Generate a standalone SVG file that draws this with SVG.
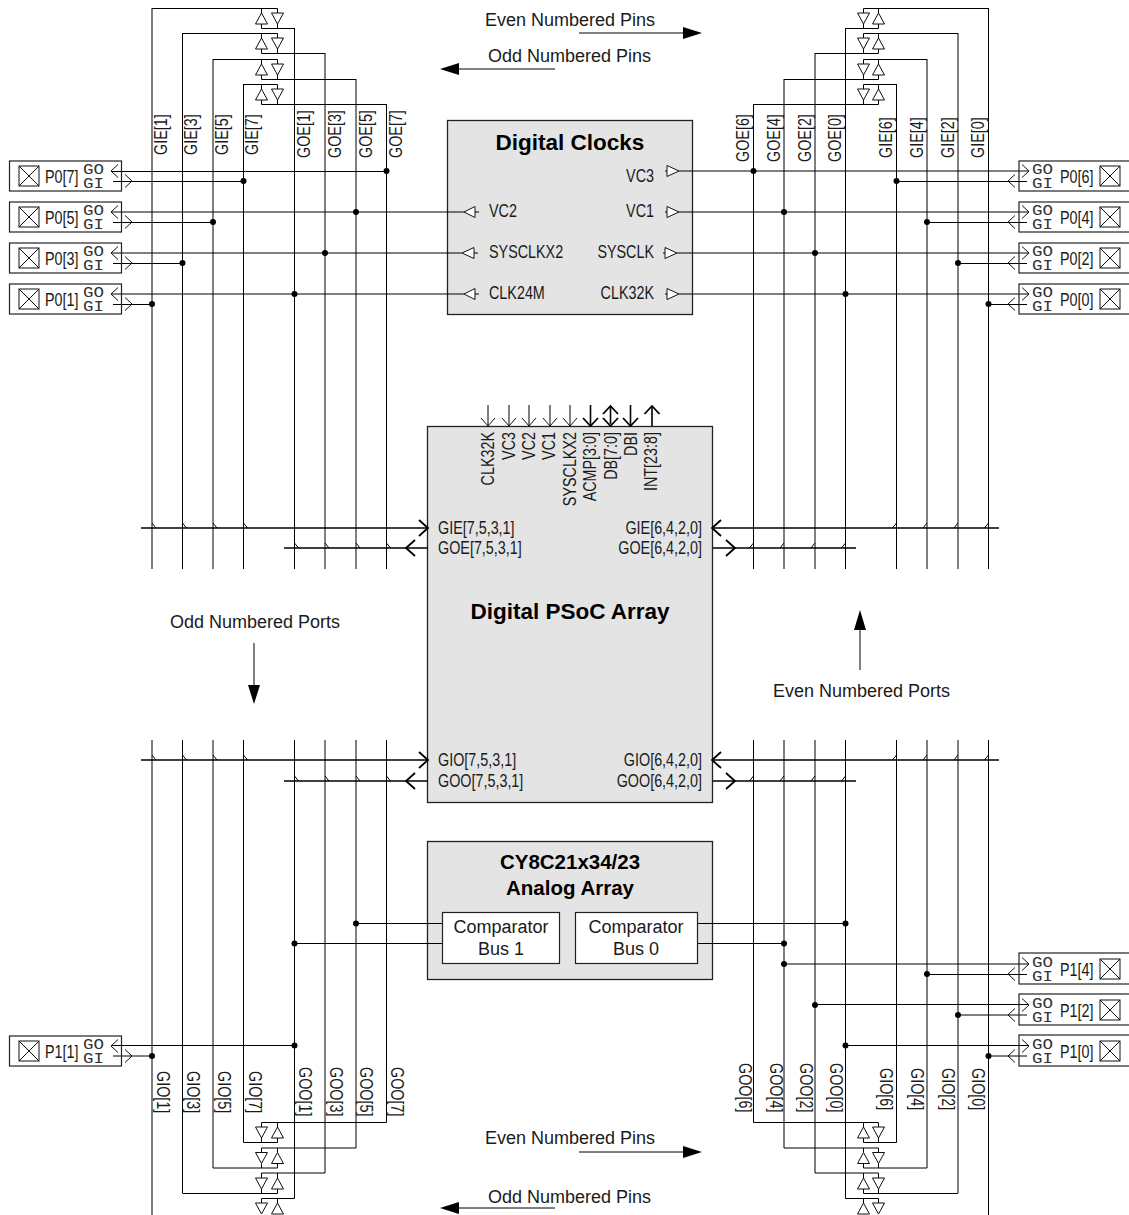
<svg xmlns="http://www.w3.org/2000/svg" width="1129" height="1215" viewBox="0 0 1129 1215">
<style>
text{font-family:"Liberation Sans",Arial,sans-serif;font-size:17.5px;fill:#1a1a1a}
.r{font-size:18px}
.c{font-size:18px;text-anchor:middle}
.b{font-weight:bold;font-size:20.5px;text-anchor:middle;fill:#000}
.m{font-family:"Liberation Mono",monospace;font-size:14px;fill:#333}
.e{text-anchor:end}
.w,.w *{fill:none;stroke:#000;stroke-width:1}
.box{fill:#e4e4e4;stroke:#222;stroke-width:1.3}
.wb{fill:#fff;stroke:#222;stroke-width:1.2}
.port{fill:none;stroke:#222;stroke-width:1.2}
.t{fill:#fff;stroke:#111;stroke-width:1}
.bus{fill:none;stroke:#000;stroke-width:1.6}
.ch{fill:none;stroke:#111;stroke-width:1}
.chb{fill:none;stroke:#000;stroke-width:1.8}
.xb{fill:none;stroke:#111;stroke-width:1}
.ar{fill:#000;stroke:none}
</style>
<defs>
<polygon id="u" class="t" points="0,0 6,11 -6,11"/>
<polygon id="d" class="t" points="-6,0 6,0 0,11"/>
<polyline id="cl" class="ch" points="7,-6.5 0,0 7,6.5"/>
<polyline id="cr" class="ch" points="-7,-6.5 0,0 -7,6.5"/>
<polyline id="tl" points="0,0 4,5" style="fill:none;stroke:#000;stroke-width:1"/>
<polyline id="tr" points="0,0 -4,5" style="fill:none;stroke:#000;stroke-width:1"/>
<circle id="o" r="3" fill="#000"/>
<g id="x"><rect class="xb" x="0" y="0" width="20" height="20"/><path class="xb" d="M0 0L20 20M20 0L0 20"/></g>
<polygon id="al" points="0,0 19,-6 19,6" class="ar"/>
<polygon id="ar" points="0,0 -19,-6 -19,6" class="ar"/>
</defs>

<g id="block-clocks">
<rect class="box" x="447.500" y="120.500" width="245" height="194"/>
<text class="b" x="570" y="150" style="font-size:22.5px">Digital Clocks</text>
<text class="e" transform="translate(654 182) scale(.82 1)">VC3</text>
<text class="e" transform="translate(654 217) scale(.82 1)">VC1</text>
<text class="e" transform="translate(654 258) scale(.82 1)">SYSCLK</text>
<text class="e" transform="translate(654 299) scale(.82 1)">CLK32K</text>
<text transform="translate(489 217) scale(.82 1)">VC2</text>
<text transform="translate(489 258) scale(.82 1)">SYSCLKX2</text>
<text transform="translate(489 299) scale(.82 1)">CLK24M</text>
</g>
<g id="block-array">
<rect class="box" x="427.500" y="426.500" width="285" height="376"/>
<text class="b" x="570" y="619" style="font-size:22.5px">Digital PSoC Array</text>
<text transform="translate(494 432) rotate(-90) scale(.82 1)" class="e">CLK32K</text>
<text transform="translate(515 432) rotate(-90) scale(.82 1)" class="e">VC3</text>
<text transform="translate(535 432) rotate(-90) scale(.82 1)" class="e">VC2</text>
<text transform="translate(555 432) rotate(-90) scale(.82 1)" class="e">VC1</text>
<text transform="translate(576 432) rotate(-90) scale(.82 1)" class="e">SYSCLKX2</text>
<text transform="translate(596 432) rotate(-90) scale(.82 1)" class="e">ACMP[3:0]</text>
<text transform="translate(617 432) rotate(-90) scale(.82 1)" class="e">DB[7:0]</text>
<text transform="translate(637 432) rotate(-90) scale(.82 1)" class="e">DBI</text>
<text transform="translate(657 432) rotate(-90) scale(.82 1)" class="e">INT[23:8]</text>
<text transform="translate(438 534) scale(.82 1)">GIE[7,5,3,1]</text>
<text transform="translate(438 554) scale(.82 1)">GOE[7,5,3,1]</text>
<text class="e" transform="translate(702 534) scale(.82 1)">GIE[6,4,2,0]</text>
<text class="e" transform="translate(702 554) scale(.82 1)">GOE[6,4,2,0]</text>
<text transform="translate(438 766) scale(.82 1)">GIO[7,5,3,1]</text>
<text transform="translate(438 787) scale(.82 1)">GOO[7,5,3,1]</text>
<text class="e" transform="translate(702 766) scale(.82 1)">GIO[6,4,2,0]</text>
<text class="e" transform="translate(702 787) scale(.82 1)">GOO[6,4,2,0]</text>
</g>
<g id="block-analog">
<rect class="box" x="427.500" y="841.500" width="285" height="138"/>
<text class="b" x="570" y="869">CY8C21x34/23</text>
<text class="b" x="570" y="895">Analog Array</text>
</g>
<g id="comparator-1"><rect class="wb" x="442.500" y="912.500" width="117" height="51"/><text class="c" x="501" y="933">Comparator</text><text class="c" x="501" y="955">Bus 1</text></g>
<g id="comparator-0"><rect class="wb" x="575.500" y="912.500" width="122" height="51"/><text class="c" x="636" y="933">Comparator</text><text class="c" x="636" y="955">Bus 0</text></g>

<g id="connectors" class="w">
<path d="M152 8V569M182.500 33V569M213 59V569M243.500 84V569M294.500 28V569M325 53V569M356 79V569M386.500 104V569"/>
<path d="M753.500 104V569M784 79V569M815 53V569M845.500 28V569M896.500 84V569M927 59V569M958 33V569M988.500 8V569"/>
<path d="M152 740V1215M182.500 740V1193M213 740V1168M243.500 740V1142.500M294.500 740V1198.500M325 740V1173M356 740V1148M386.500 740V1122.500"/>
<path d="M753.500 740V1122.500M784 740V1148M815 740V1173M845.500 740V1198.500M896.500 740V1142.500M927 740V1168M958 740V1193M988.500 740V1215"/>
<path d="M152 8.500H277.500V13M261.500 8.500V13M261.500 24V28.500H294.500M277.500 24V28.500"/>
<path d="M182.500 33.500H277.500V38M261.500 33.500V38M261.500 49V53.500H325M277.500 49V53.500"/>
<path d="M213 59.500H277.500V64M261.500 59.500V64M261.500 75V79.500H356M277.500 75V79.500"/>
<path d="M243.500 84.500H277.500V89M261.500 84.500V89M261.500 100V104.500H386.500M277.500 100V104.500"/>
<path d="M988.500 8.500H863.500V13M878.500 8.500V13M878.500 24V28.500H845.500M863.500 24V28.500"/>
<path d="M958 33.500H863.500V38M878.500 33.500V38M878.500 49V53.500H815M863.500 49V53.500"/>
<path d="M927 59.500H863.500V64M878.500 59.500V64M878.500 75V79.500H784M863.500 75V79.500"/>
<path d="M896.500 84.500H863.500V89M878.500 84.500V89M878.500 100V104.500H753.500M863.500 100V104.500"/>
<path d="M386.500 1122.500H261.500V1127M277.500 1122.500V1127M277.500 1138V1142.500H243.500M261.500 1138V1142.500"/>
<path d="M356 1148H261.500V1152.500M277.500 1148V1152.500M277.500 1163.500V1168H213M261.500 1163.500V1168"/>
<path d="M325 1173H261.500V1178M277.500 1173V1178M277.500 1189V1193.500H182.500M261.500 1189V1193.500"/>
<path d="M294.500 1198.500H261.500V1203M277.500 1198.500V1203"/>
<path d="M753.500 1122.500H878.500V1127M863.500 1122.500V1127M863.500 1138V1142.500H896.500M878.500 1138V1142.500"/>
<path d="M784 1148H878.500V1152.500M863.500 1148V1152.500M863.500 1163.500V1168H927M878.500 1163.500V1168"/>
<path d="M815 1173H878.500V1178M863.500 1173V1178M863.500 1189V1193.500H958M878.500 1189V1193.500"/>
<path d="M845.500 1198.500H878.500V1203M863.500 1198.500V1203"/>
<path d="M111 171.500H386.500M113 181.500H243.500M111 212H464M113 222.500H213M111 253H462M113 263.500H182.500M111 294H464M113 304.500H152"/>
<path d="M679 171H1029M896.500 181.500H1027M679 212H1029M927 222.500H1027M677 253H1029M958 263.500H1027M679 294H1029M988.500 304.500H1027"/>
<path d="M475 212H479M474 253H478M475 294H479M665 171H667M665 212H667M663 253H665M665 294H667"/>
<path d="M356 923.500H442M294.500 943.500H442M698 923.500H845.500M698 943.500H784"/>
<path d="M784 964H1029M927 974.500H1027M815 1004.500H1029M958 1015H1027M845.500 1045.500H1029M988.500 1056H1027M111 1045.500H294.500M113 1056H152"/>
<path d="M488 405V426M509 405V426M529 405V426M550 405V426M570 405V426"/>
</g>
<g id="connector-details">
<path class="bus" d="M590.500 405V426M610.500 407V424M630.500 405V426M652 407V426"/>
<path class="bus" d="M141 528H428M284 548H428M712 528H999M713 548H856M141 760H428M284 781H428M712 760H999M713 781H856"/>
<polyline class="chb" points="419,520 428,528 419,536"/><polyline class="chb" points="415,540 406,548 415,556"/>
<polyline class="chb" points="721,520 712,528 721,536"/><polyline class="chb" points="726,540 735,548 726,556"/>
<polyline class="chb" points="419,752 428,760 419,768"/><polyline class="chb" points="415,773 406,781 415,789"/>
<polyline class="chb" points="721,752 712,760 721,768"/><polyline class="chb" points="726,773 735,781 726,789"/>
<polyline class="ch" points="481,418 488,426 495,418"/><polyline class="ch" points="502,418 509,426 516,418"/><polyline class="ch" points="522,418 529,426 536,418"/><polyline class="ch" points="543,418 550,426 557,418"/><polyline class="ch" points="563,418 570,426 577,418"/>
<polyline class="chb" points="583,418 590.500,426 598,418"/><polyline class="chb" points="603,418 610.500,426 618,418"/><polyline class="chb" points="603,414 610.500,406 618,414"/><polyline class="chb" points="623,418 630.500,426 638,418"/><polyline class="chb" points="644.500,414 652,406 659.500,414"/>

<use href="#u" x="261.500" y="13"/><use href="#d" x="277.500" y="13"/><use href="#u" x="261.500" y="38"/><use href="#d" x="277.500" y="38"/><use href="#u" x="261.500" y="64"/><use href="#d" x="277.500" y="64"/><use href="#u" x="261.500" y="89"/><use href="#d" x="277.500" y="89"/>
<use href="#d" x="863.500" y="13"/><use href="#u" x="878.500" y="13"/><use href="#d" x="863.500" y="38"/><use href="#u" x="878.500" y="38"/><use href="#d" x="863.500" y="64"/><use href="#u" x="878.500" y="64"/><use href="#d" x="863.500" y="89"/><use href="#u" x="878.500" y="89"/>
<use href="#d" x="261.500" y="1127"/><use href="#u" x="277.500" y="1127"/><use href="#d" x="261.500" y="1152.500"/><use href="#u" x="277.500" y="1152.500"/><use href="#d" x="261.500" y="1178"/><use href="#u" x="277.500" y="1178"/><use href="#d" x="261.500" y="1203"/><use href="#u" x="277.500" y="1203"/>
<use href="#u" x="863.500" y="1127"/><use href="#d" x="878.500" y="1127"/><use href="#u" x="863.500" y="1152.500"/><use href="#d" x="878.500" y="1152.500"/><use href="#u" x="863.500" y="1178"/><use href="#d" x="878.500" y="1178"/><use href="#u" x="863.500" y="1203"/><use href="#d" x="878.500" y="1203"/>

<g fill="#fff" stroke="#111">
<polygon points="667,165.500 679,171 667,176.500"/><polygon points="667,206.500 679,212 667,217.500"/><polygon points="665,247.500 677,253 665,258.500"/><polygon points="667,288.500 679,294 667,299.500"/>
<polygon points="475,206.500 464,212 475,217.500"/><polygon points="474,247.500 462,253 474,258.500"/><polygon points="475,288.500 464,294 475,299.500"/>
</g>

<use href="#o" x="386.500" y="171"/><use href="#o" x="243.500" y="181"/><use href="#o" x="356" y="212"/><use href="#o" x="213" y="222"/><use href="#o" x="325" y="253"/><use href="#o" x="182.500" y="263"/><use href="#o" x="294.500" y="294"/><use href="#o" x="152" y="304"/>
<use href="#o" x="753.500" y="171"/><use href="#o" x="896.500" y="181"/><use href="#o" x="784" y="212"/><use href="#o" x="927" y="222"/><use href="#o" x="815" y="253"/><use href="#o" x="958" y="263"/><use href="#o" x="845.500" y="294"/><use href="#o" x="988.500" y="304"/>
<use href="#o" x="356" y="923.500"/><use href="#o" x="294.500" y="943.500"/><use href="#o" x="845.500" y="923.500"/><use href="#o" x="784" y="943.500"/>
<use href="#o" x="784" y="964"/><use href="#o" x="927" y="974"/><use href="#o" x="815" y="1005"/><use href="#o" x="958" y="1015"/><use href="#o" x="845.500" y="1045.500"/><use href="#o" x="988.500" y="1056"/><use href="#o" x="294.500" y="1045.500"/><use href="#o" x="152" y="1056"/>

<g id="bus-ticks">
<use href="#tl" x="152" y="523"/><use href="#tl" x="182.500" y="523"/><use href="#tl" x="213" y="523"/><use href="#tl" x="243.500" y="523"/>
<use href="#tl" x="294.500" y="543"/><use href="#tl" x="325" y="543"/><use href="#tl" x="356" y="543"/><use href="#tl" x="386.500" y="543"/>
<use href="#tr" x="896.500" y="523"/><use href="#tr" x="927" y="523"/><use href="#tr" x="958" y="523"/><use href="#tr" x="988.500" y="523"/>
<use href="#tr" x="753.500" y="543"/><use href="#tr" x="784" y="543"/><use href="#tr" x="815" y="543"/><use href="#tr" x="845.500" y="543"/>
<use href="#tl" x="152" y="755"/><use href="#tl" x="182.500" y="755"/><use href="#tl" x="213" y="755"/><use href="#tl" x="243.500" y="755"/>
<use href="#tl" x="294.500" y="776"/><use href="#tl" x="325" y="776"/><use href="#tl" x="356" y="776"/><use href="#tl" x="386.500" y="776"/>
<use href="#tr" x="896.500" y="755"/><use href="#tr" x="927" y="755"/><use href="#tr" x="958" y="755"/><use href="#tr" x="988.500" y="755"/>
<use href="#tr" x="753.500" y="776"/><use href="#tr" x="784" y="776"/><use href="#tr" x="815" y="776"/><use href="#tr" x="845.500" y="776"/>
</g>
</g>

<g id="direction-arrows">
<path class="w" d="M579 33H690M450 69H555M579 1152H690M450 1208H555M254 643V690M860 625V670"/>
<use href="#ar" x="702" y="33"/><use href="#al" x="440" y="69"/><use href="#ar" x="702" y="1152"/><use href="#al" x="440" y="1208"/>
<polygon class="ar" points="254,704 248,685 260,685"/><polygon class="ar" points="860,610 854,630 866,630"/>
</g>
<g id="labels">
<text class="r" x="485" y="26">Even Numbered Pins</text>
<text class="r" x="488" y="62">Odd Numbered Pins</text>
<text class="r" x="485" y="1144">Even Numbered Pins</text>
<text class="r" x="488" y="1203">Odd Numbered Pins</text>
<text class="r" x="170" y="628">Odd Numbered Ports</text>
<text class="r" x="773" y="697">Even Numbered Ports</text>
<text transform="translate(167 155) rotate(-90) scale(.82 1)">GIE[1]</text><text transform="translate(197 155) rotate(-90) scale(.82 1)">GIE[3]</text><text transform="translate(228 155) rotate(-90) scale(.82 1)">GIE[5]</text><text transform="translate(258 155) rotate(-90) scale(.82 1)">GIE[7]</text>
<text transform="translate(310 158) rotate(-90) scale(.82 1)">GOE[1]</text><text transform="translate(341 158) rotate(-90) scale(.82 1)">GOE[3]</text><text transform="translate(372 158) rotate(-90) scale(.82 1)">GOE[5]</text><text transform="translate(402 158) rotate(-90) scale(.82 1)">GOE[7]</text>
<text transform="translate(749 162) rotate(-90) scale(.82 1)">GOE[6]</text><text transform="translate(780 162) rotate(-90) scale(.82 1)">GOE[4]</text><text transform="translate(811 162) rotate(-90) scale(.82 1)">GOE[2]</text><text transform="translate(841 162) rotate(-90) scale(.82 1)">GOE[0]</text>
<text transform="translate(892 158) rotate(-90) scale(.82 1)">GIE[6]</text><text transform="translate(923 158) rotate(-90) scale(.82 1)">GIE[4]</text><text transform="translate(954 158) rotate(-90) scale(.82 1)">GIE[2]</text><text transform="translate(984 158) rotate(-90) scale(.82 1)">GIE[0]</text>
<text transform="translate(157 1071) rotate(90) scale(.82 1)">GIO[1]</text><text transform="translate(187 1071) rotate(90) scale(.82 1)">GIO[3]</text><text transform="translate(218 1071) rotate(90) scale(.82 1)">GIO[5]</text><text transform="translate(249 1071) rotate(90) scale(.82 1)">GIO[7]</text>
<text transform="translate(299 1067) rotate(90) scale(.82 1)">GOO[1]</text><text transform="translate(330 1067) rotate(90) scale(.82 1)">GOO[3]</text><text transform="translate(360 1067) rotate(90) scale(.82 1)">GOO[5]</text><text transform="translate(391 1067) rotate(90) scale(.82 1)">GOO[7]</text>
<text transform="translate(739 1063) rotate(90) scale(.82 1)">GOO[6]</text><text transform="translate(770 1063) rotate(90) scale(.82 1)">GOO[4]</text><text transform="translate(800 1063) rotate(90) scale(.82 1)">GOO[2]</text><text transform="translate(830 1063) rotate(90) scale(.82 1)">GOO[0]</text>
<text transform="translate(880 1068) rotate(90) scale(.82 1)">GIO[6]</text><text transform="translate(911 1068) rotate(90) scale(.82 1)">GIO[4]</text><text transform="translate(942 1068) rotate(90) scale(.82 1)">GIO[2]</text><text transform="translate(972 1068) rotate(90) scale(.82 1)">GIO[0]</text>
</g>

<g id="port-P0-7"><rect class="port" x="9.500" y="161" width="112" height="30"/><use href="#x" x="19" y="166"/><text transform="translate(45 183) scale(.82 1)">P0[7]</text><text class="m" x="83" y="174" textLength="21" lengthAdjust="spacingAndGlyphs">GO</text><text class="m" x="83" y="188" textLength="21" lengthAdjust="spacingAndGlyphs">GI</text><use href="#cl" x="111" y="171"/><use href="#cr" x="132" y="181"/></g>
<g id="port-P0-5"><rect class="port" x="9.500" y="202" width="112" height="30"/><use href="#x" x="19" y="207"/><text transform="translate(45 224) scale(.82 1)">P0[5]</text><text class="m" x="83" y="215" textLength="21" lengthAdjust="spacingAndGlyphs">GO</text><text class="m" x="83" y="229" textLength="21" lengthAdjust="spacingAndGlyphs">GI</text><use href="#cl" x="111" y="212"/><use href="#cr" x="132" y="222"/></g>
<g id="port-P0-3"><rect class="port" x="9.500" y="243" width="112" height="30"/><use href="#x" x="19" y="248"/><text transform="translate(45 265) scale(.82 1)">P0[3]</text><text class="m" x="83" y="256" textLength="21" lengthAdjust="spacingAndGlyphs">GO</text><text class="m" x="83" y="270" textLength="21" lengthAdjust="spacingAndGlyphs">GI</text><use href="#cl" x="111" y="253"/><use href="#cr" x="132" y="263"/></g>
<g id="port-P0-1"><rect class="port" x="9.500" y="284" width="112" height="30"/><use href="#x" x="19" y="289"/><text transform="translate(45 306) scale(.82 1)">P0[1]</text><text class="m" x="83" y="297" textLength="21" lengthAdjust="spacingAndGlyphs">GO</text><text class="m" x="83" y="311" textLength="21" lengthAdjust="spacingAndGlyphs">GI</text><use href="#cl" x="111" y="294"/><use href="#cr" x="132" y="304"/></g>
<g id="port-P1-1"><rect class="port" x="9.500" y="1036" width="112" height="30"/><use href="#x" x="19" y="1041"/><text transform="translate(45 1058) scale(.82 1)">P1[1]</text><text class="m" x="83" y="1049" textLength="21" lengthAdjust="spacingAndGlyphs">GO</text><text class="m" x="83" y="1063" textLength="21" lengthAdjust="spacingAndGlyphs">GI</text><use href="#cl" x="111" y="1046"/><use href="#cr" x="132" y="1056"/></g>

<g id="port-P0-6"><rect class="port" x="1019" y="161" width="115" height="30"/><use href="#x" x="1100" y="166"/><text transform="translate(1060 183) scale(.82 1)">P0[6]</text><text class="m" x="1032" y="174" textLength="21" lengthAdjust="spacingAndGlyphs">GO</text><text class="m" x="1032" y="188" textLength="21" lengthAdjust="spacingAndGlyphs">GI</text><use href="#cr" x="1029" y="171"/><use href="#cl" x="1008" y="181"/></g>
<g id="port-P0-4"><rect class="port" x="1019" y="202" width="115" height="30"/><use href="#x" x="1100" y="207"/><text transform="translate(1060 224) scale(.82 1)">P0[4]</text><text class="m" x="1032" y="215" textLength="21" lengthAdjust="spacingAndGlyphs">GO</text><text class="m" x="1032" y="229" textLength="21" lengthAdjust="spacingAndGlyphs">GI</text><use href="#cr" x="1029" y="212"/><use href="#cl" x="1008" y="222"/></g>
<g id="port-P0-2"><rect class="port" x="1019" y="243" width="115" height="30"/><use href="#x" x="1100" y="248"/><text transform="translate(1060 265) scale(.82 1)">P0[2]</text><text class="m" x="1032" y="256" textLength="21" lengthAdjust="spacingAndGlyphs">GO</text><text class="m" x="1032" y="270" textLength="21" lengthAdjust="spacingAndGlyphs">GI</text><use href="#cr" x="1029" y="253"/><use href="#cl" x="1008" y="263"/></g>
<g id="port-P0-0"><rect class="port" x="1019" y="284" width="115" height="30"/><use href="#x" x="1100" y="289"/><text transform="translate(1060 306) scale(.82 1)">P0[0]</text><text class="m" x="1032" y="297" textLength="21" lengthAdjust="spacingAndGlyphs">GO</text><text class="m" x="1032" y="311" textLength="21" lengthAdjust="spacingAndGlyphs">GI</text><use href="#cr" x="1029" y="294"/><use href="#cl" x="1008" y="304"/></g>
<g id="port-P1-4"><rect class="port" x="1019" y="953" width="115" height="31"/><use href="#x" x="1100" y="959"/><text transform="translate(1060 976) scale(.82 1)">P1[4]</text><text class="m" x="1032" y="967" textLength="21" lengthAdjust="spacingAndGlyphs">GO</text><text class="m" x="1032" y="981" textLength="21" lengthAdjust="spacingAndGlyphs">GI</text><use href="#cr" x="1029" y="964"/><use href="#cl" x="1008" y="974"/></g>
<g id="port-P1-2"><rect class="port" x="1019" y="994" width="115" height="31"/><use href="#x" x="1100" y="1000"/><text transform="translate(1060 1017) scale(.82 1)">P1[2]</text><text class="m" x="1032" y="1008" textLength="21" lengthAdjust="spacingAndGlyphs">GO</text><text class="m" x="1032" y="1022" textLength="21" lengthAdjust="spacingAndGlyphs">GI</text><use href="#cr" x="1029" y="1005"/><use href="#cl" x="1008" y="1015"/></g>
<g id="port-P1-0"><rect class="port" x="1019" y="1035" width="115" height="31"/><use href="#x" x="1100" y="1041"/><text transform="translate(1060 1058) scale(.82 1)">P1[0]</text><text class="m" x="1032" y="1049" textLength="21" lengthAdjust="spacingAndGlyphs">GO</text><text class="m" x="1032" y="1063" textLength="21" lengthAdjust="spacingAndGlyphs">GI</text><use href="#cr" x="1029" y="1046"/><use href="#cl" x="1008" y="1056"/></g>
</svg>
